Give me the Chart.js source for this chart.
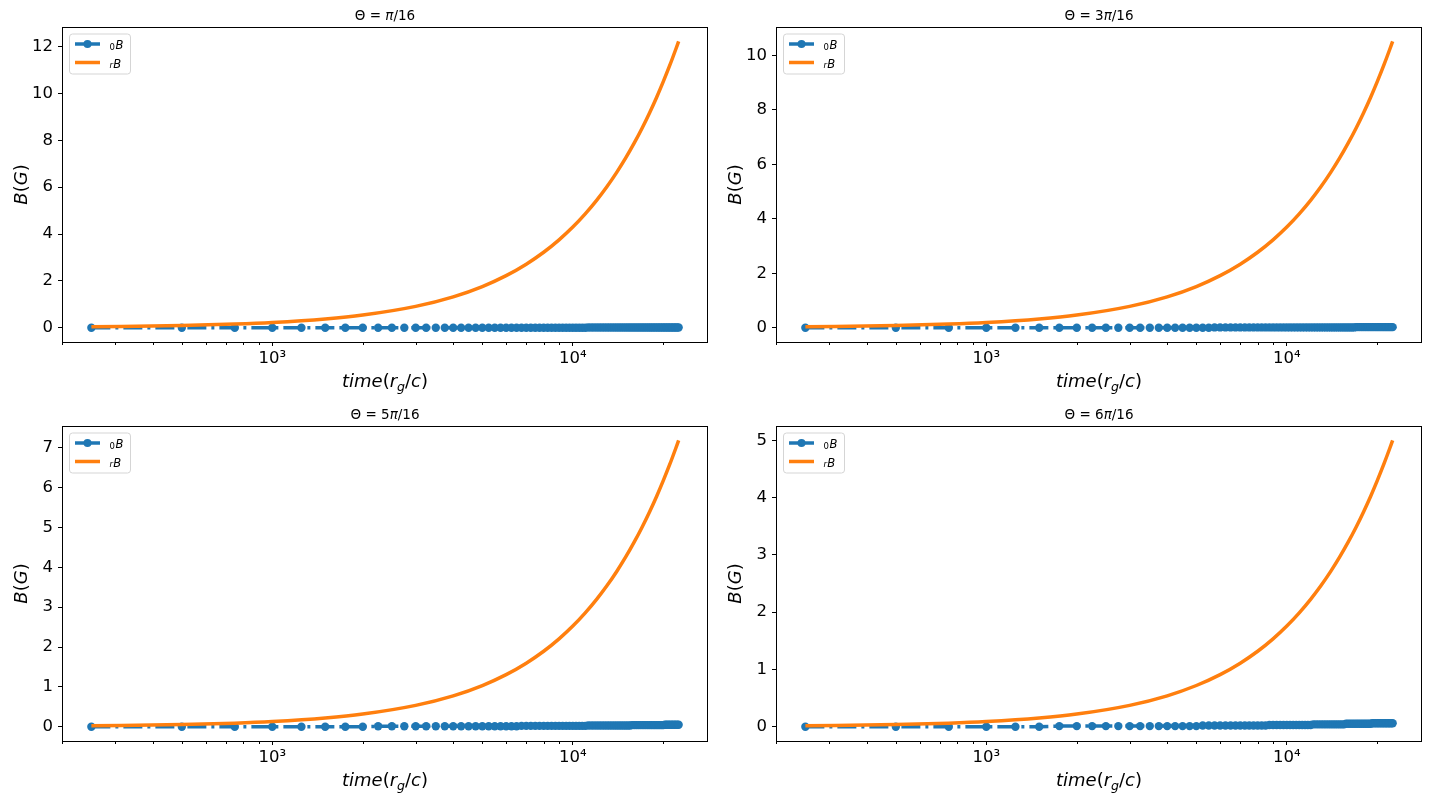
<!DOCTYPE html>
<html>
<head>
<meta charset="utf-8">
<script src="https://cdn.jsdelivr.net/npm/chart.js@4.4.1/dist/chart.umd.min.js"></script>
<style>
  body { margin: 0; background: #fff; }
  #wrap { position: relative; width: 1430px; height: 800px; overflow: hidden; }
  canvas { position: absolute; }
</style>
</head>
<body>
<div id="wrap">
  <canvas id="p1" width="715" height="400" style="left:0px;top:0px"></canvas>
  <canvas id="p2" width="715" height="400" style="left:714px;top:0px"></canvas>
  <canvas id="p3" width="715" height="400" style="left:0px;top:399px"></canvas>
  <canvas id="p4" width="715" height="400" style="left:714px;top:399px"></canvas>
</div>
<script>
// sample times of the blue (0B) series, r_g/c
const times = [
  250, 500, 750, 1000, 1250, 1500, 1750, 2000, 2250, 2500,
  2750, 3000, 3250, 3500, 3750, 4000, 4250, 4500, 4750, 5000,
  5250, 5500, 5750, 6000, 6250, 6500, 6750, 7000, 7250, 7500,
  7750, 8000, 8250, 8500, 8750, 9000, 9250, 9500, 9750, 10000,
  10250, 10500, 10750, 11000, 11250, 11500, 11750, 12000, 12250, 12500,
  12750, 13000, 13250, 13500, 13750, 14000, 14250, 14500, 14750, 15000,
  15250, 15500, 15750, 16000, 16250, 16500, 16750, 17000, 17250, 17500,
  17750, 18000, 18250, 18500, 18750, 19000, 19250, 19500, 19750, 20000,
  20250, 20500, 20750, 21000, 21250, 21500, 21750, 22000, 22250, 22500
];

const blueP1 = [
  0, 0, 0, 0, 0, 0, 0, 0, 0, 0,
  0, 0, 0, 0, 0, 0, 0, 0, 0, 0,
  0, 0, 0, 0, 0, 0, 0, 0, 0, 0,
  0, 0, 0, 0, 0, 0, 0, 0, 0, 0,
  0, 0, 0, 0, 0.01, 0.01, 0.01, 0.01, 0.01, 0.01,
  0.01, 0.01, 0.01, 0.01, 0.01, 0.01, 0.01, 0.01, 0.01, 0.01,
  0.01, 0.01, 0.01, 0.01, 0.01, 0.01, 0.01, 0.01, 0.01, 0.01,
  0.01, 0.01, 0.01, 0.01, 0.01, 0.01, 0.01, 0.01, 0.01, 0.01,
  0.01, 0.01, 0.01, 0.01, 0.01, 0.01, 0.01, 0.01, 0.01, 0.01
];
const blueP2 = [
  0, 0, 0, 0, 0, 0, 0, 0, 0, 0,
  0, 0, 0, 0, 0, 0, 0, 0, 0, 0,
  0, 0, 0.01, 0.01, 0.01, 0.01, 0.01, 0.01, 0.01, 0.01,
  0.01, 0.01, 0.01, 0.01, 0.01, 0.01, 0.01, 0.01, 0.01, 0.01,
  0.01, 0.01, 0.01, 0.01, 0.01, 0.01, 0.01, 0.01, 0.01, 0.01,
  0.01, 0.01, 0.01, 0.01, 0.01, 0.01, 0.01, 0.01, 0.01, 0.01,
  0.01, 0.01, 0.01, 0.01, 0.01, 0.01, 0.01, 0.02, 0.02, 0.02,
  0.02, 0.02, 0.02, 0.02, 0.02, 0.02, 0.02, 0.02, 0.02, 0.02,
  0.02, 0.02, 0.02, 0.02, 0.02, 0.02, 0.02, 0.02, 0.02, 0.02
];
const blueP3 = [
  0, 0, 0, 0, 0, 0, 0, 0, 0.01, 0.01,
  0.01, 0.01, 0.01, 0.01, 0.01, 0.01, 0.01, 0.01, 0.01, 0.01,
  0.01, 0.01, 0.01, 0.01, 0.01, 0.01, 0.02, 0.02, 0.02, 0.02,
  0.02, 0.02, 0.02, 0.02, 0.02, 0.02, 0.02, 0.02, 0.02, 0.02,
  0.02, 0.02, 0.02, 0.02, 0.03, 0.03, 0.03, 0.03, 0.03, 0.03,
  0.03, 0.03, 0.03, 0.03, 0.03, 0.03, 0.03, 0.03, 0.03, 0.03,
  0.03, 0.03, 0.04, 0.04, 0.04, 0.04, 0.04, 0.04, 0.04, 0.04,
  0.04, 0.04, 0.04, 0.04, 0.04, 0.04, 0.04, 0.04, 0.04, 0.04,
  0.05, 0.05, 0.05, 0.05, 0.05, 0.05, 0.05, 0.05, 0.05, 0.05
];
const blueP4 = [
  0, 0, 0, 0, 0, 0, 0.01, 0.01, 0.01, 0.01,
  0.01, 0.01, 0.01, 0.01, 0.01, 0.01, 0.01, 0.01, 0.01, 0.01,
  0.02, 0.02, 0.02, 0.02, 0.02, 0.02, 0.02, 0.02, 0.02, 0.02,
  0.02, 0.02, 0.02, 0.02, 0.03, 0.03, 0.03, 0.03, 0.03, 0.03,
  0.03, 0.03, 0.03, 0.03, 0.03, 0.03, 0.03, 0.03, 0.04, 0.04,
  0.04, 0.04, 0.04, 0.04, 0.04, 0.04, 0.04, 0.04, 0.04, 0.04,
  0.04, 0.04, 0.05, 0.05, 0.05, 0.05, 0.05, 0.05, 0.05, 0.05,
  0.05, 0.05, 0.05, 0.05, 0.05, 0.05, 0.06, 0.06, 0.06, 0.06,
  0.06, 0.06, 0.06, 0.06, 0.06, 0.06, 0.06, 0.06, 0.06, 0.06
];

// sample times of the orange (rB) curve
const curveTimes = [250, 500, 750, 1000, 1500, 2000, 3000, 4000, 5000, 6000,
  7000, 8000, 9000, 10000, 11000, 12000, 13000, 14000, 15000, 16000,
  17000, 18000, 19000, 20000, 21000, 22000, 22500];

const orangeP1 = [0.037, 0.090, 0.152, 0.220, 0.372, 0.539, 0.909, 1.317, 1.757, 2.223,
  2.713, 3.221, 3.751, 4.296, 4.859, 5.436, 6.027, 6.631, 7.249, 7.879,
  8.519, 9.171, 9.833, 10.507, 11.188, 11.881, 12.23];
const orangeP2 = [0.032, 0.078, 0.131, 0.190, 0.320, 0.463, 0.782, 1.133, 1.512, 1.913,
  2.333, 2.771, 3.226, 3.696, 4.180, 4.676, 5.184, 5.704, 6.235, 6.777,
  7.328, 7.889, 8.458, 9.038, 9.624, 10.219, 10.52];
const orangeP3 = [0.022, 0.053, 0.089, 0.130, 0.219, 0.317, 0.535, 0.774, 1.033, 1.307,
  1.595, 1.894, 2.205, 2.526, 2.857, 3.196, 3.543, 3.898, 4.261, 4.632,
  5.009, 5.392, 5.781, 6.177, 6.577, 6.985, 7.19];
const orangeP4 = [0.015, 0.037, 0.062, 0.090, 0.152, 0.220, 0.372, 0.539, 0.719, 0.909,
  1.109, 1.317, 1.534, 1.757, 1.987, 2.223, 2.464, 2.711, 2.964, 3.221,
  3.483, 3.750, 4.020, 4.296, 4.574, 4.857, 5.0];

const titles = ['π/16', '3π/16', '5π/16', '6π/16'];
const yTicksP1 = [0, 2, 4, 6, 8, 10, 12];
const yTicksP2 = [0, 2, 4, 6, 8, 10];
const yTicksP3 = [0, 1, 2, 3, 4, 5, 6, 7];
const yTicksP4 = [0, 1, 2, 3, 4, 5];
const xTickValues = [200, 300, 400, 500, 600, 700, 800, 900, 1000,
  2000, 3000, 4000, 5000, 6000, 7000, 8000, 9000, 10000, 20000];
const xTickLabels = { 1000: '10³', 10000: '10⁴' };

const BLUE = '#1f77b4';
const ORANGE = '#ff7f0e';
const FAM = '"DejaVu Sans"';
const normal = s => `${s}px ${FAM}`;
const ital = s => `italic ${s}px ${FAM}`;

// draw a row of text runs centred on x
function drawRuns(ctx, runs, x, y) {
  let w = 0;
  runs.forEach(r => { ctx.font = r.font; w += ctx.measureText(r.text).width; });
  let cx = x - w / 2;
  runs.forEach(r => {
    ctx.font = r.font;
    ctx.fillText(r.text, cx, y + (r.dy || 0));
    cx += ctx.measureText(r.text).width;
  });
}

const panelDecor = {
  id: 'panelDecor',
  afterDraw(chart, args, opts) {
    const ctx = chart.ctx;
    const a = chart.chartArea;
    ctx.save();
    ctx.fillStyle = '#000';
    ctx.strokeStyle = '#000';
    ctx.textAlign = 'left';
    ctx.textBaseline = 'alphabetic';

    // frame
    ctx.lineWidth = 1;
    ctx.strokeRect(Math.round(a.left) + 0.5, Math.round(a.top) + 0.5,
      Math.round(a.right - a.left) - 1, Math.round(a.bottom - a.top));

    // minor ticks on the time axis
    const xs = chart.scales.x;
    ctx.lineWidth = 1;
    xs.ticks.forEach(t => {
      if (xTickLabels[t.value]) return;
      const px = Math.round(xs.getPixelForValue(t.value)) + 0.5;
      ctx.beginPath();
      ctx.moveTo(px, a.bottom);
      ctx.lineTo(px, a.bottom + 3);
      ctx.stroke();
    });

    // title
    const parts = opts.title.split('π');
    drawRuns(ctx, [
      { text: 'Θ = ' + parts[0], font: normal(13.5) },
      { text: 'π', font: ital(13.5) },
      { text: parts[1], font: normal(13.5) }
    ], (a.left + a.right) / 2, a.top - 7.5);

    // x label
    drawRuns(ctx, [
      { text: 'time', font: ital(18) },
      { text: '(', font: normal(18) },
      { text: 'r', font: ital(18) },
      { text: 'g', font: ital(12.6), dy: 3.5 },
      { text: '/', font: normal(18) },
      { text: 'c', font: ital(18) },
      { text: ')', font: normal(18) }
    ], (a.left + a.right) / 2, a.bottom + 45);

    // y label
    ctx.save();
    ctx.translate(a.left - 35, (a.top + a.bottom) / 2);
    ctx.rotate(-Math.PI / 2);
    drawRuns(ctx, [
      { text: 'B', font: ital(18) },
      { text: '(', font: normal(18) },
      { text: 'G', font: ital(18) },
      { text: ')', font: normal(18) }
    ], 0, 0);
    ctx.restore();

    // legend
    const lx = a.left + 7, ly = a.top + 6.5;
    ctx.beginPath();
    ctx.roundRect(lx + 0.5, ly + 0.5, 61, 40, 3);
    ctx.fillStyle = 'rgba(255,255,255,0.8)';
    ctx.fill();
    ctx.strokeStyle = '#d5d5d5';
    ctx.lineWidth = 1;
    ctx.stroke();

    ctx.lineCap = 'butt';
    ctx.strokeStyle = BLUE;
    ctx.lineWidth = 3.5;
    ctx.beginPath();
    ctx.moveTo(a.left + 13, a.top + 17);
    ctx.lineTo(a.left + 38, a.top + 17);
    ctx.stroke();
    ctx.fillStyle = BLUE;
    ctx.beginPath();
    ctx.arc(a.left + 25.5, a.top + 17, 4, 0, Math.PI * 2);
    ctx.fill();

    ctx.strokeStyle = ORANGE;
    ctx.lineWidth = 3.5;
    ctx.beginPath();
    ctx.moveTo(a.left + 13, a.top + 35.5);
    ctx.lineTo(a.left + 38, a.top + 35.5);
    ctx.stroke();

    ctx.fillStyle = '#000';
    ctx.font = normal(8.5);
    ctx.fillText('0', a.left + 47.5, a.top + 23.2);
    ctx.font = ital(11.5);
    ctx.fillText('B', a.left + 53.5, a.top + 22.3);
    ctx.font = ital(8.5);
    ctx.fillText('r', a.left + 47.5, a.top + 41.3);
    ctx.font = ital(11.5);
    ctx.fillText('B', a.left + 51.3, a.top + 40.7);

    ctx.restore();
  }
};
Chart.register(panelDecor);

function makePanel(id, title, blue, orange, yTicks) {
  const all = blue.concat(orange);
  const lo = Math.min(...all), hi = Math.max(...all);
  const pad = (hi - lo) * 0.05;
  const lx0 = Math.log10(times[0]), lx1 = Math.log10(times[times.length - 1]);
  const lpad = (lx1 - lx0) * 0.05;
  const tickFont = { family: 'DejaVu Sans', size: 16.5 };

  new Chart(document.getElementById(id), {
    type: 'line',
    data: {
      datasets: [
        {
          label: '0B',
          data: times.map((t, i) => ({ x: t, y: blue[i] })),
          borderColor: BLUE,
          borderWidth: 3.5,
          borderDash: [19, 5, 3, 5],
          pointRadius: 4.2,
          pointBackgroundColor: BLUE,
          pointBorderWidth: 0,
          tension: 0,
          order: 1
        },
        {
          label: 'rB',
          data: curveTimes.map((t, i) => ({ x: t, y: orange[i] })),
          borderColor: ORANGE,
          borderWidth: 3.5,
          pointRadius: 0,
          cubicInterpolationMode: 'monotone',
          order: 0
        }
      ]
    },
    options: {
      responsive: false,
      animation: false,
      devicePixelRatio: 1,
      events: [],
      layout: { padding: { top: 27, right: 7, left: 0, bottom: 0 } },
      plugins: {
        legend: { display: false },
        tooltip: { enabled: false },
        panelDecor: { title: title }
      },
      scales: {
        x: {
          type: 'logarithmic',
          min: Math.pow(10, lx0 - lpad),
          max: Math.pow(10, lx1 + lpad),
          afterBuildTicks: s => { s.ticks = xTickValues.map(v => ({ value: v })); },
          afterFit: s => { s.height = 58; },
          ticks: {
            autoSkip: false,
            maxRotation: 0,
            padding: 3,
            color: '#000',
            font: tickFont,
            callback: v => xTickLabels[v] || ''
          },
          grid: {
            drawOnChartArea: false,
            tickLength: 4,
            tickWidth: 1,
            tickColor: c => (c.tick && xTickLabels[c.tick.value]) ? '#000' : 'rgba(0,0,0,0)'
          },
          border: { display: false }
        },
        y: {
          type: 'linear',
          min: lo - pad,
          max: hi + pad,
          afterBuildTicks: s => { s.ticks = yTicks.map(v => ({ value: v })); },
          afterFit: s => { s.width = 62; },
          ticks: {
            padding: 5,
            color: '#000',
            font: tickFont,
            callback: v => String(v)
          },
          grid: {
            drawOnChartArea: false,
            tickLength: 4,
            tickWidth: 1,
            tickColor: '#000'
          },
          border: { display: false }
        }
      }
    }
  });
}

makePanel('p1', titles[0], blueP1, orangeP1, yTicksP1);
makePanel('p2', titles[1], blueP2, orangeP2, yTicksP2);
makePanel('p3', titles[2], blueP3, orangeP3, yTicksP3);
makePanel('p4', titles[3], blueP4, orangeP4, yTicksP4);
</script>
</body>
</html>
